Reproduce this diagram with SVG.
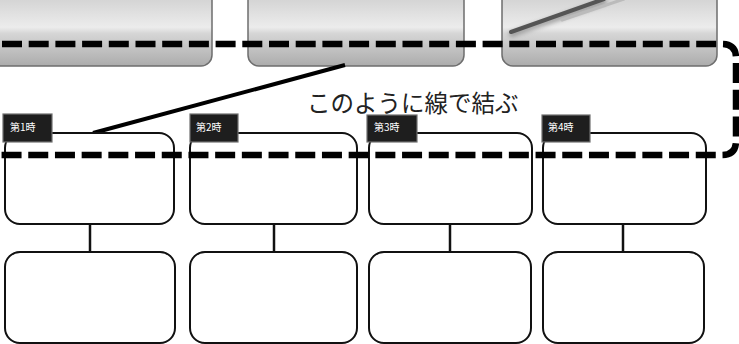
<svg xmlns="http://www.w3.org/2000/svg" width="739" height="344" viewBox="0 0 739 344">
<defs>
<linearGradient id="gloss" x1="0" y1="0" x2="0" y2="1">
<stop offset="0" stop-color="#c4c4c4"/>
<stop offset="0.55" stop-color="#ececec"/>
<stop offset="0.62" stop-color="#d6d6d6"/>
<stop offset="1" stop-color="#acacac"/>
</linearGradient>
<filter id="blur" x="-20%" y="-50%" width="140%" height="200%"><feGaussianBlur stdDeviation="2"/></filter>
</defs>
<style>
.gbox{fill:url(#gloss);stroke:#6e6e6e;stroke-width:1.5}
.box{fill:#fff;stroke:#111;stroke-width:2}
.lbl{fill:#1e1e1e;stroke:#707070;stroke-width:1.2}
.lt{fill:#fff;font-family:"Noto Sans CJK JP","Noto Sans",sans-serif;font-size:10px}
.conn{stroke:#111;stroke-width:2.5;fill:none}
</style>
<g id="top1"><rect class="gbox" x="-20" y="-20" width="232" height="86" rx="11"/></g>
<g id="top2"><rect class="gbox" x="248" y="-20" width="216" height="86" rx="11"/></g>
<g id="top3"><rect class="gbox" x="502" y="-20" width="215" height="86" rx="11"/>
<line x1="512" y1="34" x2="604" y2="2" stroke="#777" stroke-width="6" stroke-linecap="round" filter="url(#blur)" opacity="0.6"/>
<line x1="562" y1="20" x2="624" y2="-1" stroke="#bbb" stroke-width="3" stroke-linecap="round"/>
<line x1="511" y1="32" x2="604" y2="-1" stroke="#555" stroke-width="4" stroke-linecap="round"/>
</g>
<g id="connectors">
<line class="conn" x1="90" y1="224" x2="90" y2="252"/>
<line class="conn" x1="274" y1="224" x2="274" y2="252"/>
<line class="conn" x1="450" y1="224" x2="450" y2="252"/>
<line class="conn" x1="623" y1="224" x2="623" y2="252"/>
<line x1="93" y1="133" x2="345" y2="65" stroke="#000" stroke-width="4"/>
</g>
<g id="p1"><rect class="box" x="5" y="133" width="169" height="91" rx="15"/></g>
<g id="p2"><rect class="box" x="190" y="133" width="167" height="91" rx="15"/></g>
<g id="p3"><rect class="box" x="369" y="133" width="163" height="91" rx="15"/></g>
<g id="p4"><rect class="box" x="543" y="133" width="163" height="91" rx="15"/></g>
<g id="q1"><rect class="box" x="5" y="252" width="170" height="91" rx="15"/></g>
<g id="q2"><rect class="box" x="190" y="252" width="167" height="91" rx="15"/></g>
<g id="q3"><rect class="box" x="369" y="252" width="162" height="91" rx="15"/></g>
<g id="q4"><rect class="box" x="543" y="252" width="161" height="91" rx="15"/></g>
<g id="dashed-loop"><path d="M0,44 H722 Q736,44 736,58 V141 Q736,155 722,155 H0" fill="none" stroke="#000" stroke-width="6.5" stroke-dasharray="20 6.7" stroke-dashoffset="-2"/></g>
<g id="l1"><rect class="lbl" x="3" y="114" width="49" height="28"/><text class="lt" x="10" y="131">第1時</text></g>
<g id="l2"><rect class="lbl" x="190" y="114" width="48" height="28"/><text class="lt" x="196" y="131">第2時</text></g>
<g id="l3"><rect class="lbl" x="367" y="115" width="50" height="27"/><text class="lt" x="374" y="131">第3時</text></g>
<g id="l4"><rect class="lbl" x="542" y="115" width="48" height="27"/><text class="lt" x="548" y="131">第4時</text></g>
<g id="note"><text x="307" y="112" font-family="'Noto Sans CJK JP',sans-serif" font-size="23.5" fill="#222">このように線で結ぶ</text></g>
</svg>
